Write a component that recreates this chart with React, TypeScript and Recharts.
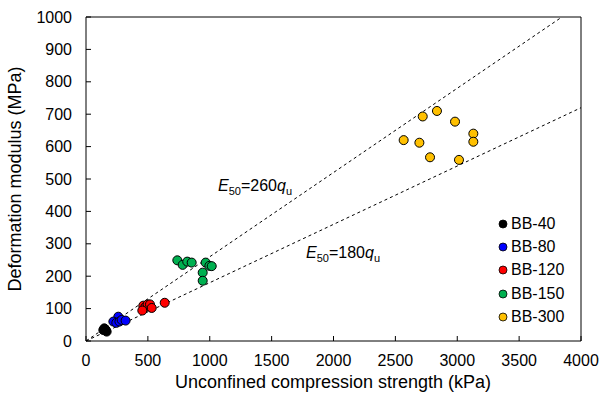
import {
  ScatterChart,
  Scatter,
  XAxis,
  YAxis,
  ReferenceLine,
  ReferenceDot,
} from 'recharts';

const FONT = '"Liberation Sans", Arial, sans-serif';

// unconfined compression strength (kPa) / deformation modulus (MPa)
const bb40 = [
  { x: 148, y: 39 },
  { x: 140, y: 34 },
  { x: 160, y: 34 },
  { x: 167, y: 29 },
];
const bb80 = [
  { x: 261, y: 75 },
  { x: 221, y: 60 },
  { x: 245, y: 56 },
  { x: 270, y: 60 },
  { x: 288, y: 65 },
  { x: 320, y: 63 },
];
const bb120 = [
  { x: 463, y: 109 },
  { x: 480, y: 105 },
  { x: 498, y: 113 },
  { x: 517, y: 113 },
  { x: 455, y: 94 },
  { x: 531, y: 102 },
  { x: 636, y: 118 },
];
const bb150 = [
  { x: 738, y: 249 },
  { x: 781, y: 235 },
  { x: 818, y: 245 },
  { x: 854, y: 242 },
  { x: 967, y: 242 },
  { x: 997, y: 232 },
  { x: 1016, y: 231 },
  { x: 943, y: 211 },
  { x: 943, y: 186 },
];
const bb300 = [
  { x: 2721, y: 693 },
  { x: 2836, y: 710 },
  { x: 2982, y: 677 },
  { x: 3130, y: 640 },
  { x: 3130, y: 615 },
  { x: 2567, y: 620 },
  { x: 2694, y: 612 },
  { x: 2780, y: 567 },
  { x: 3014, y: 559 },
];

const series = [
  { name: 'BB-40', color: '#000000', data: bb40 },
  { name: 'BB-80', color: '#0000ff', data: bb80 },
  { name: 'BB-120', color: '#ff0000', data: bb120 },
  { name: 'BB-150', color: '#00b050', data: bb150 },
  { name: 'BB-300', color: '#ffc000', data: bb300 },
];

const xTicks = [0, 500, 1000, 1500, 2000, 2500, 3000, 3500, 4000];
const yTicks = [0, 100, 200, 300, 400, 500, 600, 700, 800, 900, 1000];

// E50 = k * qu  (k = 260, 180), endpoints where the lines leave the plot
const fitLines = [
  { k: 260, start: { x: 0, y: 0 }, end: { x: 3846, y: 1000 }, labelAt: { x: 1067, y: 478 } },
  { k: 180, start: { x: 0, y: 0 }, end: { x: 4000, y: 720 }, labelAt: { x: 1778, y: 272 } },
];

function Dot(props: any) {
  const { cx, cy, fill } = props;
  return <circle cx={cx} cy={cy} r={4.5} fill={fill} stroke="#000" strokeWidth={1} />;
}

function EqLabel({ k }: { k: number }) {
  return (props: any) => {
    const vb = props.viewBox || {};
    const x = vb.cx ?? vb.x;
    const y = vb.cy ?? vb.y;
    return (
      <text x={x} y={y} dy={5} fontFamily={FONT} fontSize={16} fill="#000">
        <tspan fontStyle="italic">E</tspan>
        <tspan fontSize={11} dy={4}>50</tspan>
        <tspan dy={-4}>={k}</tspan>
        <tspan fontStyle="italic">q</tspan>
        <tspan fontSize={11} dy={4}>u</tspan>
      </text>
    );
  };
}

function LegendBox() {
  return (
    <div
      style={{
        position: 'absolute',
        left: 498,
        top: 212,
        fontFamily: FONT,
        fontSize: 16,
        color: '#000',
      }}
    >
      {series.map((s) => (
        <div key={s.name} style={{ display: 'flex', alignItems: 'center', height: 23.3 }}>
          <svg width={10} height={10} style={{ marginRight: 3 }}>
            <circle cx={5} cy={5} r={4} fill={s.color} stroke="#000" strokeWidth={0.8} />
          </svg>
          <span>{s.name}</span>
        </div>
      ))}
    </div>
  );
}

export default function App() {
  return (
    <div style={{ position: 'absolute', left: 0, top: 0, width: 599, height: 394, background: '#fff' }}>
      <ScatterChart width={599} height={394} margin={{ top: 17, right: 18, bottom: 0, left: 0 }}>
        <XAxis
          type="number"
          dataKey="x"
          domain={[0, 4000]}
          ticks={xTicks}
          interval={0}
          height={53}
          tickSize={-5}
          tickMargin={19}
          stroke="#000"
          tick={{ fill: '#000', fontSize: 16, fontFamily: FONT }}
          label={{
            content: () => (
              <text x={333} y={388} textAnchor="middle" fontFamily={FONT} fontSize={18} fill="#000">
                Unconfined compression strength (kPa)
              </text>
            ),
          }}
        />
        <YAxis
          type="number"
          dataKey="y"
          domain={[0, 1000]}
          ticks={yTicks}
          interval={0}
          width={86}
          tickSize={-5}
          tickMargin={19}
          stroke="#000"
          tick={{ fill: '#000', fontSize: 16, fontFamily: FONT }}
          label={{
            content: () => (
              <text
                x={21}
                y={179}
                transform="rotate(-90 21 179)"
                textAnchor="middle"
                fontFamily={FONT}
                fontSize={18}
                fill="#000"
              >
                Deformation modulus (MPa)
              </text>
            ),
          }}
        />
        <ReferenceLine y={1000} stroke="#000" />
        <ReferenceLine x={4000} stroke="#000" />
        {fitLines.map((l) => (
          <ReferenceLine
            key={l.k}
            segment={[l.start, l.end]}
            stroke="#000"
            strokeDasharray="3 3"
            strokeWidth={1}
          />
        ))}
        {fitLines.map((l) => (
          <ReferenceDot
            key={'lbl' + l.k}
            x={l.labelAt.x}
            y={l.labelAt.y}
            r={0}
            fill="none"
            stroke="none"
            label={{ content: EqLabel({ k: l.k }) }}
          />
        ))}
        {series.map((s) => (
          <Scatter
            key={s.name}
            name={s.name}
            data={s.data}
            fill={s.color}
            shape={Dot}
            isAnimationActive={false}
          />
        ))}
      </ScatterChart>
      <LegendBox />
    </div>
  );
}
